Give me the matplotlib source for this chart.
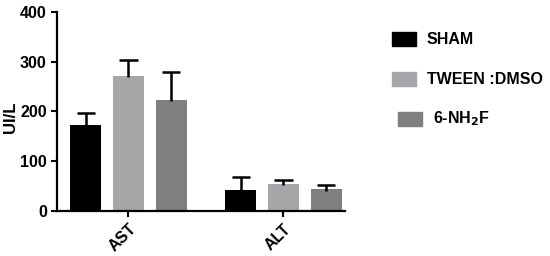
import numpy as np
import matplotlib.pyplot as plt
from matplotlib.patches import Rectangle

plt.rcParams['font.family'] = ['Liberation Sans', 'DejaVu Sans']
plt.rcParams['font.weight'] = 'bold'

categories = ['AST', 'ALT']
groups = ['SHAM', 'TWEEN :DMSO', '6-NH$_2$F']
sham = [173, 43]
sham_err = [24, 25]
tween = [272, 55]
tween_err = [31, 8]
nh2f = [224, 44]
nh2f_err = [56, 8]
colors = ['#000000', '#a7a7a9', '#7f7f7f']

fig = plt.figure(figsize=(5.5, 2.56), dpi=100)
ax = fig.add_axes([0.104, 0.176, 0.524, 0.777])

x = np.arange(len(categories))
offsets = [-0.275, 0.0, 0.275]
width = 0.2
cap = 0.06
for vals, errs, off, c in zip([sham, tween, nh2f], [sham_err, tween_err, nh2f_err], offsets, colors):
    vals = np.array(vals)
    tops = vals + np.array(errs)
    ax.bar(x + off, vals, width, color=c, zorder=2)
    # upper-only error bars
    ax.vlines(x + off, vals - 3, tops, color='black', lw=1.8, zorder=3)
    ax.hlines(tops, x + off - cap, x + off + cap, color='black', lw=1.8, zorder=3)

ax.set_xlim(-0.46, 1.40)
ax.set_ylim(0, 400)
ax.set_yticks([0, 100, 200, 300, 400])
ax.set_xticks(x)
ax.set_xticklabels(categories, rotation=45, ha='right', rotation_mode='anchor')
ax.set_ylabel('UI/L', fontsize=12, fontweight='bold')
ax.yaxis.set_label_coords(-0.135, 0.47)
ax.tick_params(axis='both', labelsize=11.5, width=1.5, length=4)
for s in ['top', 'right']:
    ax.spines[s].set_visible(False)
for s in ['left', 'bottom']:
    ax.spines[s].set_linewidth(1.6)

# legend drawn by hand, third entry sits slightly to the right
leg_x = [392, 392, 398]
leg_y = [39, 79, 119]
for lbl, c, lx, ly in zip(groups, colors, leg_x, leg_y):
    fig.patches.append(Rectangle((lx / 550, 1 - (ly + 7) / 256), 24 / 550, 14 / 256,
                                 transform=fig.transFigure, color=c))
    fig.text((lx + 35) / 550, 1 - ly / 256, lbl, fontsize=11.5, fontweight='bold', va='center')

fig.savefig('out.png', dpi=100)
